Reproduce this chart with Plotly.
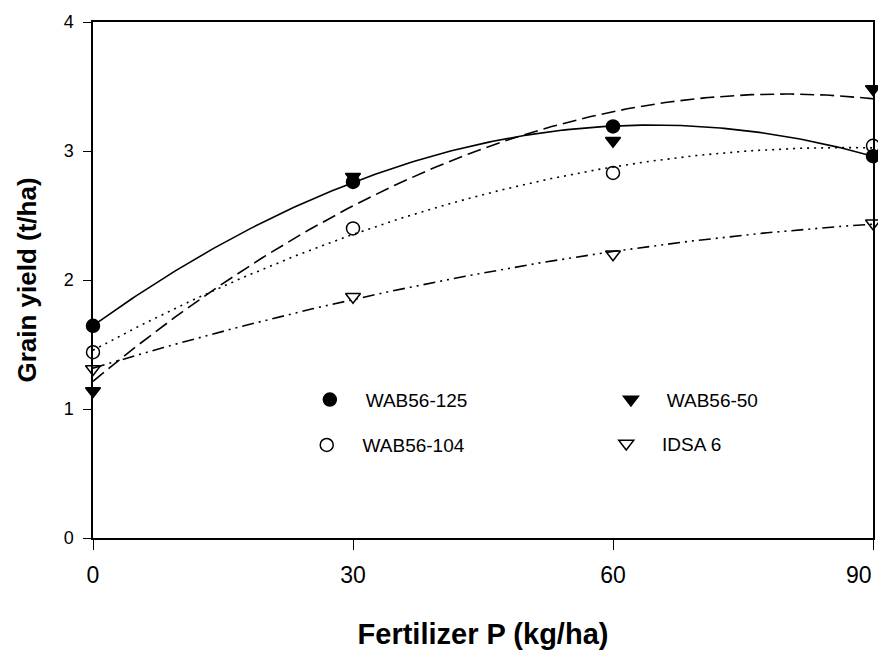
import numpy as np
import plotly.graph_objects as go

# ---- data ----
fert_p = [0, 30, 60, 90]
wab56_125 = [1.645, 2.76, 3.19, 2.96]
wab56_50 = [1.14, 2.80, 3.08, 3.48]
wab56_104 = [1.44, 2.40, 2.83, 3.04]
idsa_6 = [1.31, 1.87, 2.20, 2.44]

series_names = ["WAB56-125", "WAB56-50", "WAB56-104", "IDSA 6"]
x_ticks = [0, 30, 60, 90]
x_tick_text = ["0", "30", "60", "90"]
y_ticks = [0, 1, 2, 3, 4]

FONT = "Liberation Sans, Arial, Helvetica, sans-serif"
NB = "\u00a0\u00a0\u00a0"

styles = {
    "WAB56-125": dict(symbol="circle", dash="solid", legend="legend", lx=0.278, ly=0.268),
    "WAB56-50": dict(symbol="triangle-down", dash="14px,6px", legend="legend2", lx=0.664, ly=0.268),
    "WAB56-104": dict(symbol="circle-open", dash="2px,5px", legend="legend3", lx=0.274, ly=0.180),
    "IDSA 6": dict(symbol="triangle-down-open", dash="12px,5px,2px,5px,2px,5px", legend="legend4", lx=0.658, ly=0.183),
}
data = {"WAB56-125": wab56_125, "WAB56-50": wab56_50, "WAB56-104": wab56_104, "IDSA 6": idsa_6}

fig = go.Figure()
xs = np.linspace(min(fert_p), max(fert_p), 200)
for name in series_names:
    ys = data[name]
    coef = np.polyfit(fert_p, ys, 2)
    fig.add_trace(go.Scatter(
        x=xs, y=np.polyval(coef, xs), mode="lines",
        line=dict(color="black", width=1.6, dash=styles[name]["dash"]),
        showlegend=False, hoverinfo="skip"))

for name in series_names:
    st = styles[name]
    fig.add_trace(go.Scatter(
        x=fert_p, y=data[name], mode="markers", name=NB + name,
        legend=st["legend"], cliponaxis=False,
        marker=dict(symbol=st["symbol"], size=13, color="black",
                    line=dict(color="black", width=1.5))))

legend_common = dict(
    orientation="h", xanchor="left", yanchor="middle",
    font=dict(family=FONT, size=19, color="black"),
    bgcolor="rgba(0,0,0,0)",
    itemclick=False, itemdoubleclick=False,
)
legends = {}
for name in series_names:
    st = styles[name]
    legends[st["legend"]] = dict(x=st["lx"], y=st["ly"], **legend_common)

# the last x tick label sits left of its tick (as in the reference) so it stays inside the page
tick_labels_shown = x_tick_text[:-1] + [""]
annotations = [dict(
    x=x_ticks[-1], xref="x", y=0, yref="paper", text=x_tick_text[-1],
    showarrow=False, xanchor="right", yanchor="top", xshift=1, yshift=-22,
    font=dict(family=FONT, size=23, color="black"))]

fig.update_layout(
    width=878, height=650,
    margin=dict(l=93, r=5, t=22, b=112, autoexpand=False),
    paper_bgcolor="white", plot_bgcolor="white",
    font=dict(family=FONT, color="black"),
    annotations=annotations,
    xaxis=dict(
        range=[0, 90], tickvals=x_ticks, ticktext=tick_labels_shown,
        ticks="outside", ticklen=10, automargin=False,
        tickwidth=1.2, tickcolor="black", showline=True, linecolor="black",
        linewidth=1.5, mirror=True, showgrid=False, zeroline=False,
        tickfont=dict(family=FONT, size=23, color="black"),
        ticklabelstandoff=6,
        title=dict(text="<b>Fertilizer P (kg/ha)</b>", standoff=38,
                   font=dict(family=FONT, size=29, color="black")),
    ),
    yaxis=dict(
        range=[0, 4], tickvals=y_ticks, ticks="outside", ticklen=8,
        automargin=False,
        tickwidth=1.2, tickcolor="black", showline=True, linecolor="black",
        linewidth=1.5, mirror=True, showgrid=False, zeroline=False,
        tickfont=dict(family=FONT, size=18, color="black"),
        ticklabelstandoff=6,
        title=dict(text="<b>Grain yield (t/ha)</b>", standoff=20,
                   font=dict(family=FONT, size=26, color="black")),
    ),
    **legends,
)

fig.write_html("out.html")
